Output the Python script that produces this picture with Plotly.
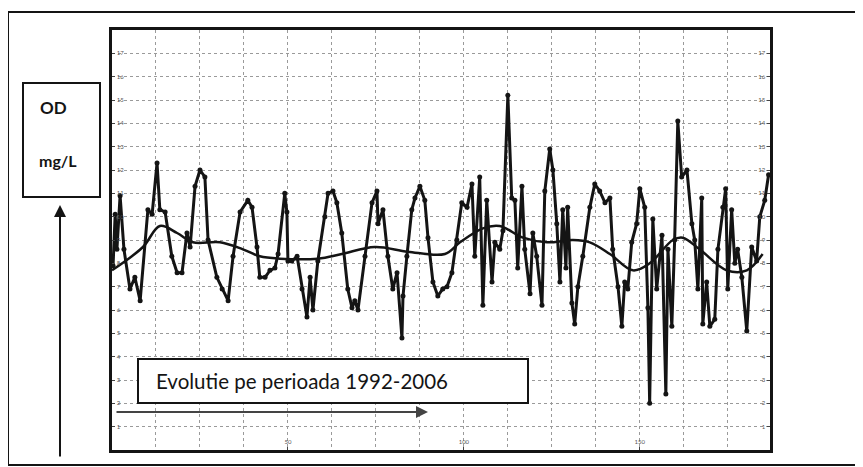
import plotly.graph_objects as go

# sample index (monthly records 1992-2006) and dissolved oxygen, mg/L
SAMPLE = [0.3, 0.9, 1.4, 2.3, 3.4, 5.1, 6.5, 8.0, 10.2, 11.4, 12.8, 13.6, 15.1, 17.0, 18.5, 19.9,
          21.3, 22.2, 23.6, 25.0, 26.4, 27.3, 29.8, 31.3, 33.0, 34.4, 36.4, 38.6, 39.8, 41.2, 42.0,
          43.5, 44.9, 46.3, 47.2, 49.1, 49.7, 50.0, 51.1, 52.6, 54.0, 55.4, 56.3, 57.1, 58.5, 60.5,
          61.4, 62.8, 63.9, 65.3, 67.0, 68.2, 69.0, 69.9, 71.9, 73.9, 75.3, 75.6, 77.0, 78.4, 79.8,
          81.0, 82.4, 82.7, 83.8, 85.2, 86.1, 87.5, 88.9, 89.8, 91.2, 92.6, 94.0, 95.2, 96.6, 98.0,
          99.4, 100.9, 102.3, 103.1, 104.5, 105.4, 106.5, 108.0, 108.8, 110.2, 111.1, 112.5, 113.6,
          114.5, 115.3, 116.5, 117.3, 118.8, 119.6, 120.7, 122.2, 123.0, 124.4, 125.3, 126.4, 127.3,
          128.1, 129.0, 129.5, 130.7, 131.5, 132.4, 133.8, 135.8, 137.2, 138.6, 140.1, 141.5, 142.3,
          143.8, 144.9, 145.7, 146.6, 147.7, 149.1, 150.0, 151.4, 152.3, 152.8, 153.7, 154.8, 156.3,
          157.4, 158.0, 159.1, 159.9, 160.8, 161.9, 163.4, 164.8, 165.6, 166.5, 167.6, 167.9, 169.0,
          169.9, 171.3, 172.2, 173.6, 174.4, 175.0, 176.1, 177.0, 177.8, 179.0, 180.4, 181.8, 183.2,
          184.1, 185.5, 186.6]
OD = [7.9, 10.1, 8.6, 10.9, 8.6, 6.9, 7.4, 6.4, 10.3, 10.1, 12.3, 10.3, 10.2, 8.3, 7.6, 7.6,
      9.3, 8.7, 11.3, 12.0, 11.7, 9.0, 7.4, 6.9, 6.4, 8.3, 10.2, 10.7, 10.4, 8.7, 7.4,
      7.4, 7.7, 7.8, 8.4, 11.0, 10.2, 8.1, 8.1, 8.3, 6.9, 5.7, 7.4, 6.0, 8.1, 10.0,
      11.0, 11.1, 10.6, 9.3, 6.9, 6.1, 6.4, 6.0, 8.3, 10.6, 11.1, 9.7, 10.3, 8.3, 6.9,
      7.6, 4.8, 6.6, 8.3, 10.3, 10.8, 11.3, 10.7, 9.1, 7.2, 6.6, 6.9, 7.0, 7.6, 9.0,
      10.6, 10.4, 11.4, 8.3, 11.7, 6.2, 10.7, 7.2, 8.9, 8.6, 9.4, 15.2, 10.8,
      10.7, 7.8, 11.3, 8.6, 6.7, 9.3, 8.3, 6.2, 11.1, 12.9, 12.0, 9.7, 7.2,
      10.3, 7.8, 10.4, 6.3, 5.4, 7.0, 8.3, 10.4, 11.4, 11.1, 10.6, 10.8, 8.6,
      7.0, 5.3, 7.2, 6.9, 8.9, 9.7, 11.2, 10.4, 6.1, 2.0, 9.9, 6.9, 9.2,
      2.4, 8.6, 5.3, 9.0, 14.1, 11.7, 12.0, 9.7, 9.0, 6.9, 10.8, 5.4, 7.2,
      5.3, 5.6, 8.6, 10.4, 11.2, 6.9, 10.3, 8.0, 8.6, 7.4, 5.1, 8.7, 8.1,
      10.0, 10.7, 11.8]

# smoothed (long-period) component
TREND_SAMPLE = [0, 8.8, 13.6, 18.5, 23.0, 30.7, 37.2, 42.0, 47.7, 58.5, 65.3, 74.7, 84.1, 94.6,
                98.9, 105.4, 110.2, 116.8, 123.6, 131.0, 135.8, 141.5, 148.0, 152.8, 159.4, 162.2,
                167.0, 174.7, 180.4, 184.9]
TREND_OD = [7.7, 8.7, 9.6, 9.3, 8.9, 8.9, 8.6, 8.3, 8.2, 8.2, 8.4, 8.7, 8.5, 8.4,
            8.9, 9.5, 9.6, 9.1, 8.9, 9.0, 8.9, 8.4, 7.7, 8.0, 9.0, 9.1,
            8.6, 7.7, 7.7, 8.4]

X_TICKS = [50, 100, 150]
Y_TICKS = list(range(1, 18))

FONT = 'Lato'
INK = '#141414'

fig = go.Figure()

fig.add_trace(go.Scatter(x=TREND_SAMPLE, y=TREND_OD, mode='lines', line_shape='spline',
                         line=dict(color=INK, width=2.5), hoverinfo='skip'))
fig.add_trace(go.Scatter(x=SAMPLE, y=OD, mode='lines+markers',
                         line=dict(color=INK, width=3),
                         marker=dict(color=INK, size=5)))
# invisible trace so the right-hand axis gets drawn
fig.add_trace(go.Scatter(x=[None], y=[None], yaxis='y2', showlegend=False))

grid = dict(showgrid=True, gridcolor='#9a9a9a', griddash='dot', gridwidth=1)

# the page has an 8px body margin, so the figure is 8px smaller than the window
fig.update_layout(
    width=855, height=459,
    margin=dict(l=104, r=93, t=22, b=17),
    paper_bgcolor='white', plot_bgcolor='white',
    showlegend=False,
    font=dict(family=FONT, color=INK),
    xaxis=dict(range=[0, 187], tickvals=X_TICKS, ticklabelposition='inside',
               tickfont=dict(size=6, color='#555'), ticks='inside', ticklen=3,
               showline=True, linecolor=INK, linewidth=3, mirror=True, zeroline=False,
               minor=dict(dtick=12.5, tick0=0, showgrid=True, gridcolor='#9a9a9a',
                          griddash='dot'),
               **grid),
    yaxis=dict(range=[0, 18], tickvals=Y_TICKS, ticklabelposition='inside',
               tickfont=dict(size=6, color='#555'), ticks='inside', ticklen=3,
               showline=True, linecolor=INK, linewidth=3, mirror=True, zeroline=False,
               **grid),
    yaxis2=dict(range=[0, 18], tickvals=Y_TICKS, overlaying='y', side='right',
                ticklabelposition='inside', tickfont=dict(size=6, color='#555'),
                ticks='inside', ticklen=3, showgrid=False, zeroline=False),
)


def px_x(p):
    # page pixel -> paper x
    return (p - 112) / 658


def px_y(p):
    # page pixel -> paper y
    return (450 - p) / 420


# outer frame of the scanned figure
fig.add_shape(type='rect', xref='paper', yref='paper',
              x0=px_x(8), x1=px_x(875), y0=px_y(465), y1=px_y(12),
              line=dict(color=INK, width=2), layer='below')

# unit box on the left
fig.add_shape(type='rect', xref='paper', yref='paper',
              x0=px_x(23), x1=px_x(100), y0=px_y(197), y1=px_y(83),
              line=dict(color=INK, width=2), fillcolor='white')
fig.add_annotation(text='<b>OD</b>', xref='paper', yref='paper', x=px_x(38), y=px_y(107),
                   xanchor='left', yanchor='middle', showarrow=False,
                   font=dict(size=17, color=INK))
fig.add_annotation(text='<b>mg/L</b>', xref='paper', yref='paper', x=px_x(37), y=px_y(160),
                   xanchor='left', yanchor='middle', showarrow=False,
                   font=dict(size=16, color=INK))
# vertical arrow under the unit box
fig.add_annotation(text='', xref='paper', yref='paper', x=px_x(60), y=px_y(205),
                   ax=0, ay=253, showarrow=True, arrowhead=2, arrowsize=1.2,
                   arrowwidth=2, arrowcolor=INK)

# period label box
fig.add_shape(type='rect', xref='paper', yref='paper',
              x0=px_x(138), x1=px_x(528), y0=px_y(403), y1=px_y(359),
              line=dict(color=INK, width=2), fillcolor='white')
fig.add_annotation(text='Evolutie pe perioada 1992-2006', xref='paper', yref='paper',
                   x=px_x(154), y=px_y(381), xanchor='left', yanchor='middle',
                   showarrow=False, font=dict(size=20.5, color=INK))
# horizontal time arrow
fig.add_annotation(text='', xref='paper', yref='paper', x=px_x(428), y=px_y(412),
                   ax=-313, ay=0, showarrow=True, arrowhead=2, arrowsize=1.2,
                   arrowwidth=2, arrowcolor='#444')

fig.write_html('out.html')
